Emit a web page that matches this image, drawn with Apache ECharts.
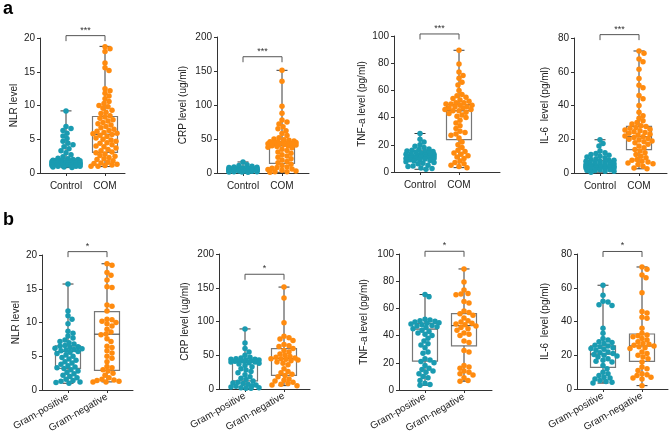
<!DOCTYPE html>
<html><head><meta charset="utf-8">
<script src="https://cdn.jsdelivr.net/npm/echarts@6/dist/echarts.min.js"></script>
<style>html,body{margin:0;padding:0;background:#fff}#c{width:669px;height:435px}</style>
</head><body><div id="c"></div>
<script>
// ---------- DATA ----------
const catsA = ['Control', 'COM'];
const catsB = ['Gram-positive', 'Gram-negative'];
const yNames = ['NLR level', 'CRP level (ug/ml)', 'TNF-a level (pg/ml)', 'IL-6  level (pg/ml)'];
const yMaxs = [20, 200, 100, 80];
const yIntervals = [5, 50, 20, 20];
const sigA = '***';
const sigB = '*';
const sigYA = [20.35, 171, 101.5, 82];
const sigYB = [20.5, 170, 102, 81.5];

// panel a: Control vs COM
const nlrControl = [9.2, 6.9, 6.6, 6.3, 5.9, 5.5, 5.1, 4.7, 4.4, 4.2, 3.9, 3.6, 3.3, 3.0, 2.7, 2.4, 2.2, 2.1, 2.0, 2.0, 1.9, 1.9, 1.8, 1.8, 1.7, 1.7, 1.7, 1.6, 1.6, 1.6, 1.5, 1.5, 1.5, 1.5, 1.4, 1.4, 1.4, 1.4, 1.3, 1.3, 1.3, 1.3, 1.2, 1.2, 1.2, 1.2, 1.1, 1.1, 1.1, 1.0, 1.0, 1.0, 0.9, 0.9, 0.8];
const nlrCOM = [18.7, 18.4, 18.0, 16.3, 15.6, 15.2, 12.5, 12.2, 11.8, 11.4, 11.0, 10.6, 10.3, 10.0, 9.8, 9.6, 9.3, 9.0, 8.8, 8.5, 8.3, 8.1, 7.9, 7.7, 7.5, 7.3, 7.1, 6.9, 6.7, 6.5, 6.3, 6.2, 6.0, 5.9, 5.8, 5.7, 5.6, 5.4, 5.2, 5.0, 4.9, 4.7, 4.5, 4.4, 4.2, 4.0, 3.9, 3.7, 3.5, 3.3, 3.1, 3.0, 2.8, 2.6, 2.5, 2.3, 2.1, 2.0, 1.8, 1.6, 1.5, 1.4, 1.3, 1.2, 1.1, 1.0, 1.0];
const crpControl = [16, 12, 11, 10, 9, 8.5, 8, 7.5, 7, 7, 6.5, 6.5, 6, 6, 6, 5.5, 5.5, 5.5, 5, 5, 5, 5, 5, 4.5, 4.5, 4.5, 4.5, 4, 4, 4, 4, 3.5, 3.5, 3.5, 3, 3, 3, 2.5, 2.5, 2, 2, 1.5, 1.5, 1];
const crpCOM = [151, 135, 98, 88, 78, 75, 72, 68, 65, 62, 58, 55, 52, 50, 49, 48, 47, 46, 46, 45, 45, 44, 44, 43, 43, 42, 42, 41, 40, 40, 39, 38, 37, 35, 33, 31, 29, 27, 25, 23, 21, 19, 17, 15, 13, 11, 9, 8, 7, 6, 5, 4, 3, 2, 2, 1];
const tnfControl = [28.3, 24, 22, 20, 19, 18, 17, 16.5, 16, 15.5, 15, 15, 14.5, 14, 14, 13.5, 13, 13, 12.5, 12.5, 12, 12, 12, 11.5, 11.5, 11, 11, 11, 10.5, 10.5, 10, 10, 10, 9.5, 9, 9, 8.5, 8, 7.5, 7, 6.5, 6, 5, 4.5, 4, 3, 2.5, 2];
const tnfCOM = [89.5, 79.5, 73.5, 71, 69, 66, 64, 60, 57, 56, 55, 54, 53, 52, 51, 51, 50, 50, 49, 49, 48, 48, 47, 47, 46, 46, 45, 45, 44, 43, 42, 41, 40, 38, 36, 34, 32, 30, 29, 28, 27, 25, 22, 20, 18, 16, 15, 14, 13, 12, 11, 10, 8, 7, 6, 5, 4, 3.2];
const il6Control = [19.7, 17.5, 16, 13, 12, 11.5, 11, 10.5, 10, 9.5, 9, 8.5, 8, 7.5, 7.5, 7, 7, 6.5, 6.5, 6, 6, 5.5, 5.5, 5, 5, 5, 4.5, 4.5, 4.5, 4, 4, 4, 4, 3.5, 3.5, 3.5, 3, 3, 3, 2.5, 2.5, 2, 2, 1.5, 1.5, 1, 1, 0.5];
const il6COM = [72.3, 71, 67.5, 66, 61.5, 56, 52, 50.5, 46, 44, 40, 36, 34, 32.5, 31, 30, 29, 28, 27.5, 27, 26.5, 26, 25.5, 25, 24.5, 24, 23.5, 23, 22.5, 22, 21.5, 21, 20.5, 20, 19.5, 19, 18.5, 18, 17, 16, 15, 14, 13, 12, 11, 10, 9, 8, 7.5, 7, 6.5, 6, 5.5, 5, 4, 3, 2.5];

// panel b: Gram-positive vs Gram-negative
const nlrGramPos = [15.7, 11.7, 11.0, 10.5, 9.8, 8.7, 8.4, 8.0, 7.7, 7.4, 7.2, 7.0, 6.8, 6.6, 6.5, 6.4, 6.3, 6.2, 6.1, 6.0, 5.9, 5.8, 5.7, 5.6, 5.4, 5.2, 5.0, 4.8, 4.6, 4.4, 4.2, 4.0, 3.8, 3.6, 3.4, 3.3, 3.2, 3.0, 2.8, 2.6, 2.4, 2.2, 2.0, 1.8, 1.6, 1.4, 1.3, 1.2, 1.1, 1.0];
const nlrGramNeg = [18.7, 18.5, 17.4, 17.0, 16.3, 15.3, 15.2, 12.6, 12.4, 11.7, 10.5, 10.4, 10.2, 10.0, 9.8, 9.5, 9.0, 8.6, 8.3, 8.2, 7.6, 7.2, 6.5, 6.3, 5.8, 5.5, 5.0, 4.7, 4.2, 3.5, 3.3, 3.0, 2.8, 2.5, 2.2, 1.8, 1.6, 1.5, 1.4, 1.3, 1.2, 1.2];
const crpGramPos = [89, 68, 60, 55, 50, 47, 46, 45, 44, 44, 43, 43, 42, 42, 41, 41, 40, 40, 39, 38, 37, 35, 33, 30, 28, 26, 24, 21, 18, 16, 14, 12, 10, 9, 8, 7, 6, 5, 4, 3, 2, 2, 1, 1];
const crpGramNeg = [151, 135, 98, 78, 76, 74, 72, 66, 64, 63, 60, 57, 55, 52, 50, 48, 47, 46, 45, 45, 44, 43, 42, 40, 38, 36, 30, 26, 24, 22, 20, 18, 15, 13, 12, 10, 8, 7, 6, 5];
const tnfGramPos = [70.2, 68.5, 52, 51.5, 51, 50.5, 50, 49.5, 49, 48.5, 48, 47.5, 47, 46.5, 46, 45, 44, 43, 42, 41, 40, 38, 36, 34, 33, 31, 28, 27, 23, 22, 21, 20, 18, 16, 15, 14, 13, 12, 10, 9, 7, 5, 4, 3.5];
const tnfGramNeg = [89, 79.5, 73.5, 71, 70.5, 70, 65, 64, 58, 57, 56, 55, 53, 51, 50, 49, 48.5, 48, 47, 46, 45, 44, 42, 41, 40, 36, 35, 29, 28, 18, 17, 16, 14, 13, 12, 11, 9, 7, 6.5];
const il6GramPos = [61.5, 55.5, 52, 51.5, 50, 49.5, 36, 33, 30, 29, 28, 27.5, 27, 26, 25.5, 25, 24.5, 24, 23.5, 23, 22, 21.5, 21, 20.5, 20, 19.5, 19, 18, 17, 16.5, 16, 14, 12, 10, 9, 8, 7, 6.5, 6, 5, 4.5, 4, 3.5];
const il6GramNeg = [72.3, 71, 67.5, 66, 57, 46, 45, 42.5, 42, 36, 33, 32, 31.5, 31, 30, 29, 28, 27, 26.5, 26, 25.5, 25, 24.5, 24, 22, 21, 20, 19, 18, 16, 13, 12, 11, 9, 8.5, 8, 7, 6.5, 6, 2];

// box statistics [min, Q1, median, Q3, max]
const boxNlrA = [[0.8, 1.2, 1.5, 2.08, 9.2], [0.95, 3.07, 5.74, 8.37, 18.76]];
const boxCrpA = [[1, 3, 5, 7, 16.2], [1, 14.3, 40, 46.2, 151]];
const boxTnfA = [[2, 10, 12, 16, 28.3], [3.2, 23.8, 45, 49.6, 89.5]];
const boxIl6A = [[0.5, 3, 4.5, 7.5, 19.7], [2.5, 13.8, 21.5, 27.6, 72.3]];
const boxNlrB = [[1.0, 3.2, 5.7, 6.53, 15.7], [1.2, 2.9, 8.27, 11.6, 18.7]];
const boxCrpB = [[1, 11.9, 39.5, 41, 89], [5, 20.2, 45, 59.8, 151]];
const boxTnfB = [[3.5, 21.2, 44.8, 49, 70.2], [6.5, 32.5, 47.3, 56.2, 89]];
const boxIl6B = [[3.5, 12.8, 20.7, 25.5, 61.5], [2, 16.4, 25.5, 32.6, 72.3]];

// ---------- LAYOUT / STYLE ----------
const TEAL = '#1a9bb1', ORANGE = '#ff8b0f';
const SPACING = 39;    // px between the two groups
const FIRST = 26;      // px from y axis to first group
const grids = [
  {left: 40, top: 38, width: 85, height: 135},
  {left: 217, top: 37, width: 92, height: 136},
  {left: 394, top: 36, width: 106, height: 136},
  {left: 574, top: 38, width: 93, height: 135},
  {left: 42, top: 255, width: 91, height: 135},
  {left: 219, top: 254, width: 91, height: 135},
  {left: 399, top: 254, width: 93, height: 136},
  {left: 577, top: 254, width: 91, height: 135}
];
const nameGaps = [21, 29, 27, 24, 21, 29, 30, 27];

const panels = [
  {groups: [nlrControl, nlrCOM], box: boxNlrA, cats: catsA, sig: sigA, sigY: sigYA[0], k: 0},
  {groups: [crpControl, crpCOM], box: boxCrpA, cats: catsA, sig: sigA, sigY: sigYA[1], k: 1},
  {groups: [tnfControl, tnfCOM], box: boxTnfA, cats: catsA, sig: sigA, sigY: sigYA[2], k: 2},
  {groups: [il6Control, il6COM], box: boxIl6A, cats: catsA, sig: sigA, sigY: sigYA[3], k: 3},
  {groups: [nlrGramPos, nlrGramNeg], box: boxNlrB, cats: catsB, sig: sigB, sigY: sigYB[0], k: 0},
  {groups: [crpGramPos, crpGramNeg], box: boxCrpB, cats: catsB, sig: sigB, sigY: sigYB[1], k: 1},
  {groups: [tnfGramPos, tnfGramNeg], box: boxTnfB, cats: catsB, sig: sigB, sigY: sigYB[2], k: 2},
  {groups: [il6GramPos, il6GramNeg], box: boxIl6B, cats: catsB, sig: sigB, sigY: sigYB[3], k: 3}
];

// deterministic beeswarm layout (pixel offsets from the group centre)
function swarm(vals, pxPerUnit, d, maxOff) {
  const order = vals.map((v, i) => i).sort((a, b) => vals[b] - vals[a]);
  const placed = [];
  const offs = new Array(vals.length).fill(0);
  const cands = [0];
  for (let s = 1; s <= maxOff; s++) { cands.push(s, -s); }
  order.forEach(i => {
    const y = vals[i] * pxPerUnit;
    let best = 0, bestCost = Infinity;
    for (const c of cands) {
      let cost = 0;
      for (const p of placed) {
        const dx = c - p[0], dy = y - p[1];
        const dist = Math.sqrt(dx * dx + dy * dy);
        if (dist < d) cost += (d - dist);
      }
      if (cost === 0) { best = c; bestCost = 0; break; }
      if (cost < bestCost - 1e-9) { bestCost = cost; best = c; }
    }
    offs[i] = best;
    placed.push([best, y]);
  });
  return offs;
}

function renderBox(params, api) {
  const x = api.value(0);
  const pMin = api.coord([x, api.value(1)]);
  const pQ1 = api.coord([x, api.value(2)]);
  const pMed = api.coord([x, api.value(3)]);
  const pQ3 = api.coord([x, api.value(4)]);
  const pMax = api.coord([x, api.value(5)]);
  const cx = pMin[0], hw = 12.5, cw = 5.5;
  const wl = {stroke: '#3a3a3a', lineWidth: 1};
  return {type: 'group', children: [
    {type: 'line', shape: {x1: cx, y1: pMax[1], x2: cx, y2: pQ3[1]}, style: wl},
    {type: 'line', shape: {x1: cx, y1: pQ1[1], x2: cx, y2: pMin[1]}, style: wl},
    {type: 'line', shape: {x1: cx - cw, y1: pMax[1], x2: cx + cw, y2: pMax[1]}, style: wl},
    {type: 'line', shape: {x1: cx - cw, y1: pMin[1], x2: cx + cw, y2: pMin[1]}, style: wl},
    {type: 'rect', shape: {x: cx - hw, y: pQ3[1], width: 2 * hw, height: pQ1[1] - pQ3[1]},
      style: {fill: 'none', stroke: '#777', lineWidth: 1.2}},
    {type: 'line', shape: {x1: cx - hw, y1: pMed[1], x2: cx + hw, y2: pMed[1]}, style: {stroke: '#333', lineWidth: 1}}
  ]};
}

function makeBracket(sig) {
  return function (params, api) {
    const y = api.value(2);
    const p0 = api.coord([api.value(0), y]);
    const p1 = api.coord([api.value(1), y]);
    return {type: 'group', children: [
      {type: 'polyline', shape: {points: [[p0[0], p0[1] + 5.5], [p0[0], p0[1]], [p1[0], p1[1]], [p1[0], p1[1] + 5.5]]},
        style: {stroke: '#555', lineWidth: 1, fill: 'none'}},
      {type: 'text', x: (p0[0] + p1[0]) / 2, y: p0[1] - 1,
        style: {text: sig, fill: '#333', font: '9px "Liberation Sans", Arial, sans-serif', textAlign: 'center', textVerticalAlign: 'bottom'}}
    ]};
  };
}

const FONT = '"Liberation Sans", Arial, Helvetica, sans-serif';
const option = {
  animation: false,
  backgroundColor: '#fff',
  textStyle: {fontFamily: FONT},
  grid: grids.map(g => Object.assign({containLabel: false}, g)),
  xAxis: [], yAxis: [], series: [],
  graphic: [
    {type: 'text', left: 3, top: 0, style: {text: 'a', font: 'bold 18px ' + FONT, fill: '#000'}},
    {type: 'text', left: 3, top: 211, style: {text: 'b', font: 'bold 18px ' + FONT, fill: '#000'}}
  ]
};

panels.forEach((p, gi) => {
  const g = grids[gi];
  const xmin = 1 - FIRST / SPACING;
  const xmax = xmin + g.width / SPACING;
  const rowB = gi >= 4;
  option.xAxis.push({
    type: 'value', gridIndex: gi, min: xmin, max: xmax,
    splitLine: {show: false},
    axisLine: {show: true, onZero: false, lineStyle: {color: '#333', width: 1}},
    axisTick: {show: true, length: 3, customValues: [1, 2], lineStyle: {color: '#333'}},
    axisLabel: {show: true, customValues: [1, 2], margin: rowB ? 6 : 8, fontSize: 10, color: '#222', fontFamily: FONT,
      rotate: rowB ? 30 : 0,
      formatter: v => p.cats[Math.round(v) - 1] || ''}
  });
  option.yAxis.push({
    type: 'value', gridIndex: gi, min: 0, max: yMaxs[p.k], interval: yIntervals[p.k],
    name: yNames[p.k], nameLocation: 'middle', nameGap: nameGaps[gi],
    nameTextStyle: {fontSize: 10, color: '#222', fontFamily: FONT},
    splitLine: {show: false},
    axisLine: {show: true, lineStyle: {color: '#333', width: 1}},
    axisTick: {show: true, length: 3, lineStyle: {color: '#333'}},
    axisLabel: {fontSize: 10, color: '#222', margin: 5, fontFamily: FONT}
  });
  // boxes
  option.series.push({
    type: 'custom', xAxisIndex: gi, yAxisIndex: gi, renderItem: renderBox, z: 2, clip: false,
    encode: {x: 0, y: [1, 2, 3, 4, 5]},
    data: p.box.map((b, i) => [i + 1].concat(b))
  });
  // points
  const pxPerUnit = g.height / yMaxs[p.k];
  p.groups.forEach((vals, i) => {
    const offs = swarm(vals, pxPerUnit, 4.6, 14);
    option.series.push({
      type: 'scatter', xAxisIndex: gi, yAxisIndex: gi, z: 3, symbolSize: 5.5,
      itemStyle: {color: i === 0 ? TEAL : ORANGE, opacity: 1},
      data: vals.map((v, j) => [i + 1 + offs[j] / SPACING, v])
    });
  });
  // significance bracket
  option.series.push({
    type: 'custom', xAxisIndex: gi, yAxisIndex: gi, renderItem: makeBracket(p.sig), z: 4, clip: false,
    encode: {x: [0, 1], y: 2},
    data: [[1, 2, p.sigY]]
  });
});

const chart = echarts.init(document.getElementById('c'), null, {renderer: 'canvas'});
chart.setOption(option);
</script></body></html>
